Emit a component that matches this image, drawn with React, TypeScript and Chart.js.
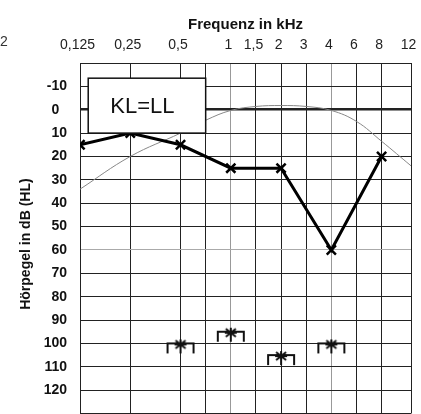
import React, { useEffect, useRef } from 'react';
import { Chart, registerables } from 'chart.js';

Chart.register(...registerables);

// ---- data ----
const tickFreqs = [0.125, 0.25, 0.5, 0.75, 1, 1.5, 2, 3, 4, 6, 8, 12];
const tickLabels = ['0,125', '0,25', '0,5', '', '1', '1,5', '2', '3', '4', '6', '8', '12'];
const grayGridFreqs = [1, 4];

const acFreqs = [0.125, 0.25, 0.5, 1, 2, 4, 8];
const acValues = [15, 10, 15, 25, 25, 60, 20];

const bcFreqs = [0.5, 1, 2, 4];
const bcValues = [100, 95, 105, 100];

const refFreqs = [0.125, 0.25, 0.5, 0.75, 1, 1.5, 2, 3, 4, 6, 8, 12];
const refValues = [34, 20, 10, 4.5, 0.3, -1.4, -1.8, -1.4, 0.3, 5, 13.5, 24];

const dbMin = -20;
const dbMax = 130;
const dbStep = 10;
const dbLabelMin = -10;
const dbLabelMax = 120;
const thickDb = 0;
const grayDb = 60;

const xTitle = 'Frequenz in kHz';
const yTitle = 'Hörpegel in dB (HL)   ';
const boxText = 'KL=LL';
const strayText = '2';
// box in scale units (kHz / dB)
const boxFromKHz = 0.14;
const boxToKHz = 0.75;
const boxTopDb = -13.5;
const boxBottomDb = 10;

const FONT = '"Liberation Sans", Arial, sans-serif';

// audiogram position: octaves above 125 Hz, half-octave frequencies at the midpoint
function pos(f: number): number {
  const o = Math.log2(f / 0.125);
  const fl = Math.floor(o + 1e-9);
  const frac = o - fl;
  if (Math.abs(frac - Math.log2(1.5)) < 0.01 && fl < 6) return fl + 0.5;
  return o;
}

function makeBoneSymbol(): HTMLCanvasElement {
  const c = document.createElement('canvas');
  c.width = 30;
  c.height = 26;
  const g = c.getContext('2d')!;
  const cx = 15;
  const cy = 13;
  g.strokeStyle = '#111';
  g.lineWidth = 2;
  g.lineCap = 'butt';
  // bracket
  g.beginPath();
  g.moveTo(cx - 13, cy + 10);
  g.lineTo(cx - 13, cy);
  g.lineTo(cx + 13, cy);
  g.lineTo(cx + 13, cy + 10);
  g.stroke();
  // star
  const sy = cy + 1;
  g.beginPath();
  g.moveTo(cx - 6, sy);
  g.lineTo(cx + 6, sy);
  g.moveTo(cx - 5, sy - 4);
  g.lineTo(cx + 5, sy + 4);
  g.moveTo(cx + 5, sy - 4);
  g.lineTo(cx - 5, sy + 4);
  g.moveTo(cx, sy - 5);
  g.lineTo(cx, sy + 9);
  g.stroke();
  return c;
}

export default function App() {
  const ref = useRef<HTMLCanvasElement | null>(null);

  useEffect(() => {
    if (!ref.current) return;
    const bone = makeBoneSymbol();
    const tickPos = tickFreqs.map(pos);
    const grayPos = grayGridFreqs.map(pos);

    const overlay = {
      id: 'overlay',
      afterDatasetsDraw(chart: any) {
        const { ctx, scales } = chart;
        const x0 = scales.x.getPixelForValue(pos(boxFromKHz));
        const x1 = scales.x.getPixelForValue(pos(boxToKHz));
        const y0 = scales.y.getPixelForValue(boxTopDb);
        const y1 = scales.y.getPixelForValue(boxBottomDb);
        ctx.save();
        ctx.fillStyle = '#fff';
        ctx.fillRect(x0, y0, x1 - x0, y1 - y0);
        ctx.strokeStyle = '#111';
        ctx.lineWidth = 1.5;
        ctx.strokeRect(x0, y0, x1 - x0, y1 - y0);
        ctx.fillStyle = '#111';
        ctx.font = `22px ${FONT}`;
        ctx.textAlign = 'left';
        ctx.textBaseline = 'middle';
        ctx.fillText(boxText, x0 + 22, (y0 + y1) / 2 + 1);
        ctx.restore();
      },
      afterDraw(chart: any) {
        const { ctx } = chart;
        ctx.save();
        ctx.fillStyle = '#333';
        ctx.font = `14px ${FONT}`;
        ctx.textAlign = 'left';
        ctx.textBaseline = 'middle';
        ctx.fillText(strayText, 0, 42);
        ctx.restore();
      },
    };

    const chart = new Chart(ref.current, {
      type: 'scatter',
      data: {
        datasets: [
          {
            data: acFreqs.map((f, i) => ({ x: pos(f), y: acValues[i] })),
            showLine: true,
            borderColor: '#000',
            borderWidth: 3,
            pointStyle: 'crossRot',
            pointRadius: 6.5,
            pointBorderWidth: 2.5,
            pointBorderColor: '#000',
            pointBackgroundColor: '#000',
            order: 0,
          },
          {
            data: bcFreqs.map((f, i) => ({ x: pos(f), y: bcValues[i] })),
            showLine: false,
            pointStyle: bone as any,
            pointRadius: 10,
            order: 1,
          },
          {
            data: refFreqs.map((f, i) => ({ x: pos(f), y: refValues[i] })),
            showLine: true,
            borderColor: '#888',
            borderWidth: 1,
            tension: 0.4,
            pointRadius: 0,
            order: 2,
          },
        ],
      },
      options: {
        responsive: false,
        animation: false,
        devicePixelRatio: 1,
        layout: { autoPadding: false, padding: { left: 0, top: 0, right: 10, bottom: 0.5 } },
        plugins: { legend: { display: false }, tooltip: { enabled: false } },
        scales: {
          x: {
            type: 'linear',
            position: 'top',
            min: pos(tickFreqs[0]),
            max: pos(tickFreqs[tickFreqs.length - 1]),
            afterFit: (s: any) => {
              s.height = 63;
              s.paddingLeft = 0;
              s.paddingRight = 0;
            },
            afterBuildTicks: (s: any) => {
              s.ticks = tickPos.map((v) => ({ value: v }));
            },
            ticks: {
              callback: (_v: any, i: number) => tickLabels[i],
              font: { family: FONT, size: 14 },
              color: '#222',
              padding: 9,
              labelOffset: -2.5,
              maxRotation: 0,
              autoSkip: false,
            },
            grid: {
              drawTicks: false,
              color: (c: any) =>
                c.tick && grayPos.some((g) => Math.abs(g - c.tick.value) < 1e-6) ? '#999' : '#222',
              lineWidth: 1,
            },
            border: { display: true, color: '#222', width: 1 },
            title: {
              display: true,
              text: xTitle,
              font: { family: FONT, size: 15, weight: 'bold' },
              color: '#111',
              padding: { top: 16, bottom: 0 },
            },
          },
          y: {
            type: 'linear',
            reverse: true,
            min: dbMin,
            max: dbMax,
            afterFit: (s: any) => {
              s.width = 80;
              s.paddingTop = 0;
              s.paddingBottom = 0;
            },
            ticks: {
              stepSize: dbStep,
              callback: (v: any) =>
                v >= dbLabelMin && v <= dbLabelMax ? (v === 0 ? '0  ' : String(v)) : '',
              font: { family: FONT, size: 14, weight: 'bold' },
              color: '#111',
              padding: 13,
            },
            grid: {
              drawTicks: false,
              color: (c: any) => (c.tick && c.tick.value === grayDb ? '#aaa' : '#222'),
              lineWidth: (c: any) => (c.tick && c.tick.value === thickDb ? 2.5 : 1),
            },
            border: { display: true, color: '#222', width: 1 },
            title: {
              display: true,
              text: yTitle,
              font: { family: FONT, size: 14, weight: 'bold' },
              color: '#111',
              padding: { top: 18, bottom: 0 },
            },
          },
        },
      },
      plugins: [overlay],
    } as any);

    return () => chart.destroy();
  }, []);

  return (
    <div style={{ position: 'fixed', left: 0, top: 0, width: 421, height: 414, background: '#fff' }}>
      <canvas ref={ref} width={421} height={414} style={{ display: 'block' }} />
    </div>
  );
}
